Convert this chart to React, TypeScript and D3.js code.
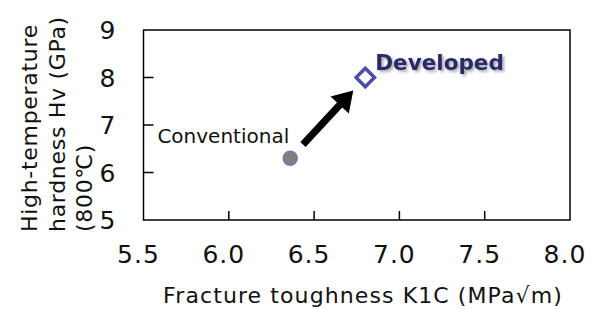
import React, { useEffect, useRef } from 'react';
import * as d3 from 'd3';

// data
const xTicks = [5.5, 6.0, 6.5, 7.0, 7.5, 8.0];
const yTicks = [5, 6, 7, 8, 9];
const pointNames = ['Conventional', 'Developed'];
const toughness = [6.36, 6.8];
const hardness = [6.3, 8.0];
const yTitleLines = ['High-temperature', 'hardness Hv (GPa)', '(800℃)'];
const xTitle = 'Fracture toughness K1C (MPa√m)';

const App = () => {
  const svgRef = useRef<SVGSVGElement>(null);

  useEffect(() => {
    const svg = d3.select(svgRef.current);
    svg.selectAll('*').remove();

    const width = 597;
    const height = 309;
    const margin = { top: 30, right: 27, bottom: 89, left: 143.5 };
    const font = '"DejaVu Sans", Verdana, sans-serif';

    const x = d3.scaleLinear().domain([5.5, 8.0]).range([margin.left, width - margin.right]);
    const y = d3.scaleLinear().domain([5, 9]).range([height - margin.bottom, margin.top]);

    const defs = svg.append('defs');
    const f = defs.append('filter').attr('id', 'shadow').attr('x', '-10%').attr('y', '-30%').attr('width', '130%').attr('height', '170%');
    f.append('feDropShadow')
      .attr('dx', 2).attr('dy', 2).attr('stdDeviation', 1.5)
      .attr('flood-color', '#000').attr('flood-opacity', 0.35);

    // frame
    svg.append('rect')
      .attr('x', x(5.5)).attr('y', y(9))
      .attr('width', x(8) - x(5.5)).attr('height', y(5) - y(9))
      .attr('fill', 'none').attr('stroke', '#000').attr('stroke-width', 1.5);

    // inward ticks
    svg.append('g').selectAll('line')
      .data(yTicks.slice(1, -1))
      .join('line')
      .attr('x1', x(5.5)).attr('x2', x(5.5) + 10)
      .attr('y1', d => y(d)).attr('y2', d => y(d))
      .attr('stroke', '#000').attr('stroke-width', 1.5);

    svg.append('g').selectAll('line')
      .data(xTicks.slice(1, -1))
      .join('line')
      .attr('x1', d => x(d)).attr('x2', d => x(d))
      .attr('y1', y(5)).attr('y2', y(5) - 9)
      .attr('stroke', '#000').attr('stroke-width', 1.5);

    // tick labels
    svg.append('g').selectAll('text')
      .data(yTicks)
      .join('text')
      .attr('x', x(5.5) - 28)
      .attr('y', d => y(d))
      .attr('dy', '0.36em')
      .attr('text-anchor', 'end')
      .style('font-family', font)
      .style('font-size', '25px')
      .attr('fill', '#111')
      .text(d => d);

    svg.append('g').selectAll('text')
      .data(xTicks)
      .join('text')
      .attr('x', d => x(d) - 5)
      .attr('y', 263)
      .attr('text-anchor', 'middle')
      .style('font-family', font)
      .style('font-size', '25px')
      .style('letter-spacing', '1px')
      .attr('fill', '#111')
      .text(d => d.toFixed(1));

    // axis titles
    svg.append('text')
      .attr('x', 363)
      .attr('y', 303)
      .attr('text-anchor', 'middle')
      .style('font-family', font)
      .style('font-size', '22px')
      .style('letter-spacing', '1.1px')
      .attr('fill', '#111')
      .text(xTitle);

    svg.append('g')
      .selectAll('text')
      .data(yTitleLines)
      .join('text')
      .attr('transform', (d, i) => `translate(${37 + i * 27.5},232) rotate(-90)`)
      .style('font-family', font)
      .style('font-size', '22px')
      .style('letter-spacing', '0.7px')
      .attr('fill', '#111')
      .text(d => d);

    // arrow between the two points
    const p0: [number, number] = [x(toughness[0]), y(hardness[0])];
    const p1: [number, number] = [x(toughness[1]), y(hardness[1])];
    const lerp = (t: number): [number, number] => [p0[0] + (p1[0] - p0[0]) * t, p0[1] + (p1[1] - p0[1]) * t];
    const a = lerp(0.17);
    const b = lerp(0.84);
    const len = Math.hypot(b[0] - a[0], b[1] - a[1]);
    const ang = (Math.atan2(b[1] - a[1], b[0] - a[0]) * 180) / Math.PI;
    const shaft = 3.6;
    const headLen = 20;
    const headW = 12.5;
    svg.append('path')
      .attr('transform', `translate(${a[0]},${a[1]}) rotate(${ang})`)
      .attr('d', `M0,${-shaft}L${len - headLen},${-shaft}L${len - headLen},${-headW}L${len},0L${len - headLen},${headW}L${len - headLen},${shaft}L0,${shaft}Z`)
      .attr('fill', '#000');

    // conventional point
    svg.append('circle')
      .attr('cx', p0[0]).attr('cy', p0[1]).attr('r', 7)
      .attr('fill', '#808080').attr('stroke', '#8170ad').attr('stroke-width', 1.5);

    // developed point
    svg.append('path')
      .attr('transform', `translate(${p1[0]},${p1[1]}) rotate(45)`)
      .attr('d', d3.symbol().type(d3.symbolSquare).size(13 * 13)())
      .attr('fill', '#fff').attr('stroke', '#4e4ea3').attr('stroke-width', 3.5);

    // labels
    svg.append('text')
      .attr('x', p0[0] - 1)
      .attr('y', p0[1] - 15.5)
      .attr('text-anchor', 'end')
      .style('font-family', font)
      .style('font-size', '20px')
      .attr('fill', '#111')
      .text(pointNames[0]);

    svg.append('text')
      .attr('x', p1[0] + 10)
      .attr('y', p1[1] - 8)
      .style('font-family', font)
      .style('font-size', '21.5px')
      .style('font-weight', 'bold')
      .attr('fill', '#2b2b6b')
      .attr('filter', 'url(#shadow)')
      .text(pointNames[1]);
  }, []);

  return <svg ref={svgRef} width="597" height="309" style={{ display: 'block', position: 'absolute', left: 0, top: 0 }}></svg>;
};

export default App;
